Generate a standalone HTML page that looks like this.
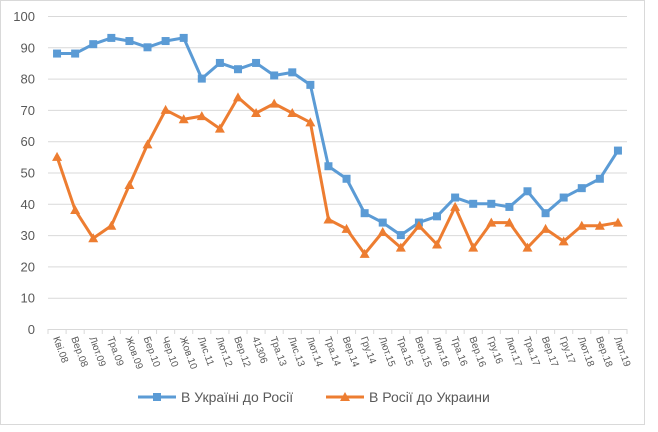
<!DOCTYPE html>
<html><head><meta charset="utf-8"><style>
body{margin:0;background:#fff;}
svg{display:block;font-family:"Liberation Sans","DejaVu Sans",sans-serif;}
</style></head><body>
<svg width="658" height="432" xmlns="http://www.w3.org/2000/svg">
<rect x="0.5" y="0.5" width="644" height="424" fill="#fff" stroke="#d9d9d9"/>
<g id="grid" stroke="#d9d9d9" stroke-width="1"></g>
<g id="yl" font-size="13" fill="#595959" text-anchor="end"></g>
<g id="xl" font-size="10" fill="#595959"></g>
<polyline id="b" fill="none" stroke="#5b9bd5" stroke-width="3" stroke-linejoin="round"/>
<polyline id="o" fill="none" stroke="#ed7d31" stroke-width="3" stroke-linejoin="round"/>
<g id="bm" fill="#5b9bd5"></g>
<g id="om" fill="#ed7d31"></g>
<g font-size="14" fill="#595959">
<line x1="138" y1="397" x2="176" y2="397" stroke="#5b9bd5" stroke-width="3"/>
<rect x="153" y="393" width="8" height="8" fill="#5b9bd5"/>
<text x="181" y="402">В Україні до Росії</text>
<line x1="326" y1="397" x2="364" y2="397" stroke="#ed7d31" stroke-width="3"/>
<polygon points="345,392 350,401 340,401" fill="#ed7d31"/>
<text x="369" y="402">В Росії до Украини</text>
</g>
<script>
var ns="http://www.w3.org/2000/svg";
function el(t,a,p){var e=document.createElementNS(ns,t);for(var k in a)e.setAttribute(k,a[k]);document.getElementById(p).appendChild(e);return e;}
var L=48,R=627,Y0=329,Y1=16;
function y(v){return Y0-(Y0-Y1)*v/100;}
for(var v=0;v<=100;v+=10){
 el("line",{x1:L,x2:R,y1:y(v)+0.5,y2:y(v)+0.5},"grid");
 var t=el("text",{x:35,y:y(v)+5},"yl");t.textContent=v;
}
var cats="Кві.08,Вер.08,Лют.09,Тра.09,Жов.09,Бер.10,Чер.10,Жов.10,Лис.11,Лют.12,Вер.12,41306,Тра.13,Лис.13,Лют.14,Тра.14,Вер.14,Гру.14,Лют.15,Тра.15,Вер.15,Лют.16,Тра.16,Вер.16,Гру.16,Лют.17,Тра.17,Вер.17,Гру.17,Лют.18,Вер.18,Лют.19".split(",");
var B=[88,88,91,93,92,90,92,93,80,85,83,85,81,82,78,52,48,37,34,30,34,36,42,40,40,39,44,37,42,45,48,57];
var O=[55,38,29,33,46,59,70,67,68,64,74,69,72,69,66,35,32,24,31,26,33,27,39,26,34,34,26,32,28,33,33,34];
var w=(R-L)/32,pb=[],po=[];
for(var i=0;i<=32;i++){el("line",{x1:L+i*w,x2:L+i*w,y1:Y0,y2:Y0+5},"grid");}
for(var i=0;i<32;i++){
 var x=L+w*(i+0.5);
 pb.push(x+","+y(B[i]));po.push(x+","+y(O[i]));
 el("rect",{x:x-4,y:y(B[i])-4,width:8,height:8},"bm");
 var yo=y(O[i]);el("polygon",{points:x+","+(yo-5)+" "+(x+5)+","+(yo+4)+" "+(x-5)+","+(yo+4)},"om");
 var t=el("text",{transform:"translate("+(x-4)+","+(Y0+9)+") rotate(70)"},"xl");t.textContent=cats[i];
}
document.getElementById("b").setAttribute("points",pb.join(" "));
document.getElementById("o").setAttribute("points",po.join(" "));
</script>
</svg>
</body></html>
